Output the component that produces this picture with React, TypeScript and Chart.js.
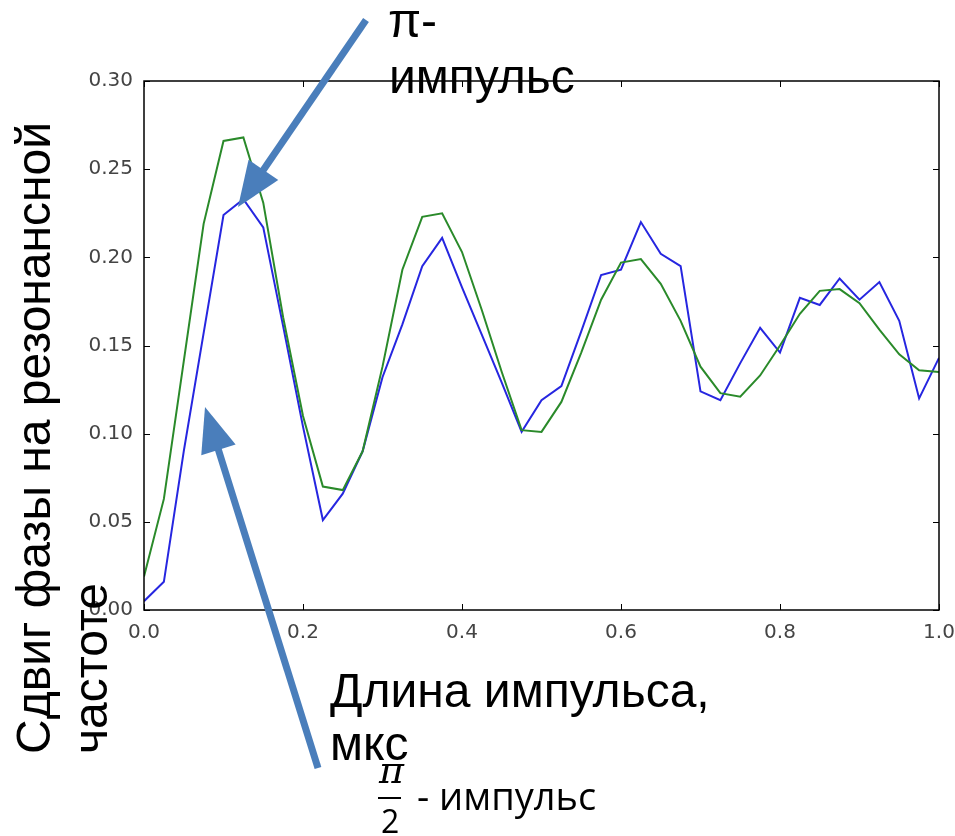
import React, { useEffect, useRef } from "react";
import { Chart, registerables } from "chart.js";

Chart.register(...registerables);

const pulseLength = [
  0.0, 0.025, 0.05, 0.075, 0.1, 0.125, 0.15, 0.175, 0.2, 0.225,
  0.25, 0.275, 0.3, 0.325, 0.35, 0.375, 0.4, 0.425, 0.45, 0.475,
  0.5, 0.525, 0.55, 0.575, 0.6, 0.625, 0.65, 0.675, 0.7, 0.725,
  0.75, 0.775, 0.8, 0.825, 0.85, 0.875, 0.9, 0.925, 0.95, 0.975, 1.0,
];

const blueShift = [
  0.005, 0.016, 0.09, 0.157, 0.224, 0.233, 0.217, 0.161, 0.104, 0.051,
  0.066, 0.09, 0.132, 0.162, 0.195, 0.211, 0.183, 0.156, 0.129, 0.101,
  0.119, 0.127, 0.158, 0.19, 0.193, 0.22, 0.202, 0.195, 0.124, 0.119,
  0.14, 0.16, 0.146, 0.177, 0.173, 0.188, 0.176, 0.186, 0.164, 0.12, 0.143,
];

const greenShift = [
  0.019, 0.063, 0.141, 0.219, 0.266, 0.268, 0.231, 0.166, 0.11, 0.07,
  0.068, 0.09, 0.138, 0.193, 0.223, 0.225, 0.203, 0.17, 0.135, 0.102,
  0.101, 0.118, 0.146, 0.176, 0.197, 0.199, 0.185, 0.164, 0.138, 0.123,
  0.121, 0.133, 0.15, 0.168, 0.181, 0.182, 0.174, 0.159, 0.145, 0.136, 0.135,
];

const xTicks = [0, 0.2, 0.4, 0.6, 0.8, 1.0];
const yTicks = [0, 0.05, 0.1, 0.15, 0.2, 0.25, 0.3];

const yTitle1 = "Сдвиг фазы на резонансной";
const yTitle2 = "частоте";
const xTitle1 = "Длина импульса,";
const xTitle2 = "мкс";
const piLabel1 = "π-";
const piLabel2 = "импульс";
const halfPiLabel = "- импульс";

const W = 955;
const H = 836;

const frameTicks = {
  id: "frameTicks",
  afterDatasetsDraw(chart: any) {
    const { ctx, chartArea } = chart;
    const xs = chart.scales.x;
    const ys = chart.scales.y;
    ctx.save();
    ctx.strokeStyle = "#000";
    ctx.lineWidth = 1;
    const L = 6;
    ctx.beginPath();
    for (const v of xTicks) {
      const px = Math.round(xs.getPixelForValue(v)) + 0.5;
      ctx.moveTo(px, chartArea.bottom);
      ctx.lineTo(px, chartArea.bottom - L);
      ctx.moveTo(px, chartArea.top);
      ctx.lineTo(px, chartArea.top + L);
    }
    for (const v of yTicks) {
      const py = Math.round(ys.getPixelForValue(v)) + 0.5;
      ctx.moveTo(chartArea.left, py);
      ctx.lineTo(chartArea.left + L, py);
      ctx.moveTo(chartArea.right, py);
      ctx.lineTo(chartArea.right - L, py);
    }
    ctx.stroke();
    ctx.lineWidth = 1.5;
    ctx.strokeRect(
      chartArea.left,
      chartArea.top,
      chartArea.right - chartArea.left,
      chartArea.bottom - chartArea.top
    );
    ctx.restore();
  },
};

function arrowPath(x1: number, y1: number, x2: number, y2: number) {
  const dx = x2 - x1;
  const dy = y2 - y1;
  const len = Math.hypot(dx, dy);
  const ux = dx / len;
  const uy = dy / len;
  const head = 45;
  const half = 18;
  const bx = x2 - ux * head;
  const by = y2 - uy * head;
  const px = -uy;
  const py = ux;
  return {
    shaft: { x1, y1, x2: bx + ux * 2, y2: by + uy * 2 },
    head: `${x2},${y2} ${bx + px * half},${by + py * half} ${bx - px * half},${by - py * half}`,
  };
}

export default function App() {
  const ref = useRef<HTMLCanvasElement | null>(null);

  useEffect(() => {
    if (!ref.current) return;
    const chart = new Chart(ref.current, {
      type: "line",
      data: {
        datasets: [
          {
            label: "green",
            data: pulseLength.map((x, i) => ({ x, y: greenShift[i] })),
            borderColor: "#2a8a2a",
            borderWidth: 2,
            pointRadius: 0,
            tension: 0,
            fill: false,
          },
          {
            label: "blue",
            data: pulseLength.map((x, i) => ({ x, y: blueShift[i] })),
            borderColor: "#2626e0",
            borderWidth: 2,
            pointRadius: 0,
            tension: 0,
            fill: false,
          },
        ],
      },
      options: {
        responsive: false,
        animation: false,
        devicePixelRatio: 1,
        layout: { padding: { left: 0, top: 81, right: 0, bottom: 0 } },
        plugins: { legend: { display: false }, tooltip: { enabled: false } },
        scales: {
          x: {
            type: "linear",
            min: 0,
            max: 1,
            afterBuildTicks: (s: any) => {
              s.ticks = xTicks.map((v) => ({ value: v }));
            },
            ticks: {
              callback: (v: any) => Number(v).toFixed(1),
              color: "#444",
              font: { family: "DejaVu Sans", size: 20 },
              padding: 11,
              maxRotation: 0,
              autoSkip: false,
            },
            grid: { display: false, drawTicks: false },
            border: { display: false },
            afterFit: (s: any) => {
              s.height = H - 610;
              s.paddingLeft = 0;
              s.paddingRight = 16;
            },
          },
          y: {
            type: "linear",
            min: 0,
            max: 0.3,
            afterBuildTicks: (s: any) => {
              s.ticks = yTicks.map((v) => ({ value: v }));
            },
            ticks: {
              callback: (v: any) => Number(v).toFixed(2),
              color: "#444",
              font: { family: "DejaVu Sans", size: 20 },
              padding: 11,
              autoSkip: false,
            },
            grid: { display: false, drawTicks: false },
            border: { display: false },
            afterFit: (s: any) => {
              s.width = 144;
            },
          },
        },
      },
      plugins: [frameTicks],
    });
    return () => chart.destroy();
  }, []);

  const a1 = arrowPath(366, 20, 238, 207);
  const a2 = arrowPath(318, 768, 205, 407);
  const arrowColor = "#4a7ebb";

  return (
    <div style={{ position: "fixed", left: 0, top: 0, width: W, height: H, background: "#fff" }}>
      <canvas ref={ref} width={W} height={H} style={{ position: "absolute", left: 0, top: 0, width: W, height: H }} />
      <svg
        width={W}
        height={H}
        style={{ position: "absolute", left: 0, top: 0, pointerEvents: "none" }}
      >
        {[a1, a2].map((a, i) => (
          <g key={i}>
            <line x1={a.shaft.x1} y1={a.shaft.y1} x2={a.shaft.x2} y2={a.shaft.y2} stroke={arrowColor} strokeWidth={7} />
            <polygon points={a.head} fill={arrowColor} />
          </g>
        ))}
        <g fontFamily="'Liberation Sans', Arial, sans-serif" fontSize={48} fill="#000">
          <text x={388} y={37}>{piLabel1}</text>
          <text x={389} y={93}>{piLabel2}</text>
          <text x={330} y={707}>{xTitle1}</text>
          <text x={330} y={760}>{xTitle2}</text>
          <text x={50} y={754} transform="rotate(-90 50 754)">{yTitle1}</text>
          <text x={107} y={754} transform="rotate(-90 107 754)">{yTitle2}</text>
        </g>
        <text x={379} y={783} fontFamily="'DejaVu Serif', serif" fontStyle="italic" fontSize={38} fill="#000">π</text>
        <rect x={378} y={797} width={23} height={2} fill="#000" />
        <text x={381} y={833} fontFamily="'Open Sans', sans-serif" fontSize={32} fill="#000">2</text>
        <text x={417} y={810} fontFamily="'Open Sans', sans-serif" fontSize={38} fill="#000">{halfPiLabel}</text>
      </svg>
    </div>
  );
}
